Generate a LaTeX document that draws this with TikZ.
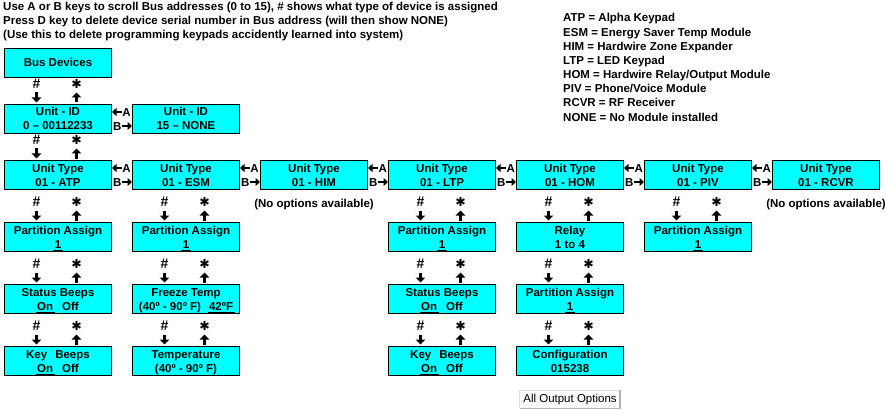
\documentclass[tikz,border=0pt]{standalone}
\usepackage{fontspec}
\setmainfont{Liberation Sans}
\newfontfamily\symfont{DejaVu Sans}
\usetikzlibrary{arrows.meta, positioning}

\definecolor{panelcyan}{RGB}{0,255,255}

% strut and two-line text of a keypad display
\newcommand{\rowstrut}{\rule[-3pt]{0pt}{14pt}}
\newcommand{\twoline}[2]{\rowstrut#1\\\rowstrut#2}
% underline for the value now selected
\newcommand{\selval}[1]{\setbox0\hbox{#1}\rlap{\kern-1.5pt\rule[-2.5pt]{\dimexpr\wd0+3pt\relax}{1pt}}\box0}

% # and * keys leading into a display
\newcommand{\keypair}[1]{%
    \node[keylabel, above=15pt of #1.north, xshift=-21.5pt] (#1-hash) {\fontsize{14}{14}\selectfont\#};
    \node[keylabel, above=15pt of #1.north, xshift=18.5pt] (#1-star) {\symfont\fontsize{12.5}{14}\selectfont ✱};
    \draw[keyarrow, shorten <=3.5pt, shorten >=1.5pt] (#1-hash.south) -- (#1-hash.south |- #1.north);
    \draw[keyarrow, shorten <=1.5pt, shorten >=3.5pt] (#1-star.south |- #1.north) -- (#1-star.south);
}

% A and B keys between neighbouring displays
\newcommand{\abpair}[2]{%
    \node[keylabel, anchor=east] (#2-a) at ([xshift=-1pt, yshift=-8pt]#2.north west) {A};
    \node[keylabel, anchor=west] (#1-b) at ([xshift=1pt, yshift=-22pt]#1.north east) {B};
    \draw[sidearrow] (#2-a.west) -- (#2-a.west -| #1.east);
    \draw[sidearrow] (#1-b.east) -- (#1-b.east -| #2.west);
}

\begin{document}
\begin{tikzpicture}[
    x=1pt, y=-1pt,
    font=\bfseries\fontsize{11.5}{14}\selectfont,
    unitbox/.style={
        draw,
        line width=1pt,
        fill=panelcyan,
        minimum width=107pt,
        minimum height=29pt,
        inner sep=0pt,
        align=center
    },
    keylabel/.style={inner sep=0pt, text height=8.5pt, text depth=0pt},
    keyarrow/.style={-{Triangle[length=5pt, width=9.5pt]}, line width=2.3pt},
    sidearrow/.style={-{Triangle[length=4.5pt, width=8pt]}, line width=2pt},
    notetext/.style={inner sep=0pt, anchor=base west},
    outbutton/.style={
        fill=gray!4,
        minimum width=100pt,
        minimum height=18pt,
        inner sep=0pt,
        font=\mdseries\fontsize{11.5}{13}\selectfont
    }
]
\useasboundingbox[fill=white] (0,0) rectangle (886,417);

\node[notetext] (help1) at (3,11) {Use A or B keys to scroll Bus addresses (0 to 15), \# shows what type of device is assigned};
\node[notetext] (help2) at (3,25) {Press D key to delete device serial number in Bus address (will then show NONE)};
\node[notetext] (help3) at (3,39) {(Use this to delete programming keypads accidently learned into system)};

\foreach \txt [count=\i from 0] in {ATP = Alpha Keypad, ESM = Energy Saver Temp Module,
        HIM = Hardwire Zone Expander, LTP = LED Keypad, HOM = Hardwire Relay/Output Module,
        PIV = Phone/Voice Module, RCVR = RF Receiver, NONE = No Module installed}
    \node[notetext] (legend\i) at (563,{22+14.15*\i}) {\txt};

\node[unitbox, anchor=north west] (bus) at (4,48) {\rowstrut Bus Devices};
\node[unitbox, below=26pt of bus] (id0) {\twoline{Unit - ID}{0 – 00112233}};
\node[unitbox, right=20pt of id0] (id15) {\twoline{Unit - ID}{15 – NONE}};

\node[unitbox, below=26pt of id0] (atp) {\twoline{Unit Type}{01 - ATP}};
\node[unitbox, right=20pt of atp] (esm) {\twoline{Unit Type}{01 - ESM}};
\node[unitbox, right=20pt of esm] (him) {\twoline{Unit Type}{01 - HIM}};
\node[unitbox, right=20pt of him] (ltp) {\twoline{Unit Type}{01 - LTP}};
\node[unitbox, right=20pt of ltp] (hom) {\twoline{Unit Type}{01 - HOM}};
\node[unitbox, right=20pt of hom] (piv) {\twoline{Unit Type}{01 - PIV}};
\node[unitbox, right=20pt of piv] (rcvr) {\twoline{Unit Type}{01 - RCVR}};

\node[inner sep=0pt, anchor=base] (nohim) at ([yshift=-17pt]him.south) {(No options available)};
\node[inner sep=0pt, anchor=base] (norcvr) at ([yshift=-17pt]rcvr.south) {(No options available)};

% ATP column
\node[unitbox, below=32pt of atp] (atppart) {\twoline{Partition Assign}{\selval{1}}};
\node[unitbox, below=32pt of atppart] (atpstat) {\twoline{Status Beeps}{\selval{On}\hspace{9pt}Off}};
\node[unitbox, below=32pt of atpstat] (atpkey) {\twoline{Key\hspace{8pt}Beeps}{\selval{On}\hspace{9pt}Off}};

% ESM column
\node[unitbox, below=32pt of esm] (esmpart) {\twoline{Partition Assign}{\selval{1}}};
\node[unitbox, below=32pt of esmpart] (esmfrz) {\twoline{Freeze Temp}{(40º - 90º F)\hspace{8pt}\selval{42ºF}}};
\node[unitbox, below=32pt of esmfrz] (esmtemp) {\twoline{Temperature}{(40º - 90º F)}};

% LTP column
\node[unitbox, below=32pt of ltp] (ltppart) {\twoline{Partition Assign}{\selval{1}}};
\node[unitbox, below=32pt of ltppart] (ltpstat) {\twoline{Status Beeps}{\selval{On}\hspace{9pt}Off}};
\node[unitbox, below=32pt of ltpstat] (ltpkey) {\twoline{Key\hspace{8pt}Beeps}{\selval{On}\hspace{9pt}Off}};

% HOM column
\node[unitbox, below=32pt of hom] (homrelay) {\twoline{Relay}{1 to 4}};
\node[unitbox, below=32pt of homrelay] (hompart) {\twoline{Partition Assign}{\selval{1}}};
\node[unitbox, below=32pt of hompart] (homcfg) {\twoline{Configuration}{015238}};

% PIV column
\node[unitbox, below=32pt of piv] (pivpart) {\twoline{Partition Assign}{\selval{1}}};

\foreach \lower in {id0, atp, atppart, atpstat, atpkey, esmpart, esmfrz, esmtemp,
        ltppart, ltpstat, ltpkey, homrelay, hompart, homcfg, pivpart}
    {\keypair{\lower}}

\foreach \ua/\ub in {id0/id15, atp/esm, esm/him, him/ltp, ltp/hom, hom/piv, piv/rcvr}
    {\abpair{\ua}{\ub}}

\node[outbutton, below=14pt of homcfg] (allout) {All Output Options};
\draw[gray!25, line width=1pt] (allout.south west) -- (allout.north west) -- (allout.north east);
\draw[gray!60, line width=1.5pt] (allout.north east) -- (allout.south east) -- (allout.south west);

\end{tikzpicture}
\end{document}
